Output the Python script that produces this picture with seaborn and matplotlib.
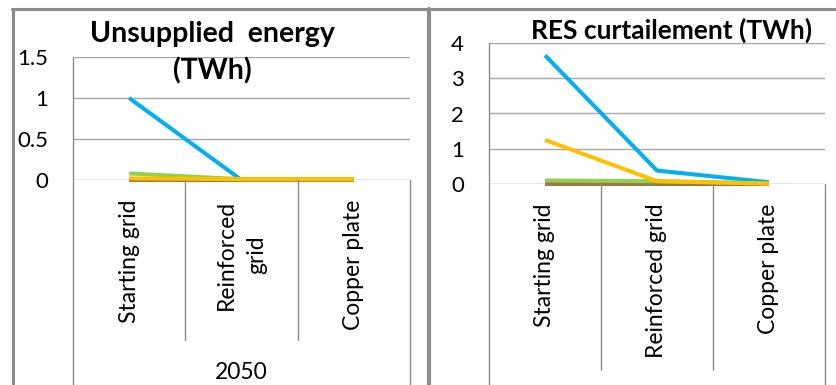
import matplotlib
matplotlib.use("Agg")
import matplotlib.pyplot as plt
from matplotlib.lines import Line2D
import seaborn as sns
import pandas as pd

# ---- data ----
scenarios = ["Starting grid", "Reinforced grid", "Copper plate"]
left_labels = ["Starting grid", "Reinforced\ngrid", "Copper plate"]
right_labels = ["Starting grid", "Reinforced grid", "Copper plate"]
series_names = ["S1", "S2", "S3", "S4"]
series_colors = ["#00B0F0", "#9C7A44", "#92D050", "#FFC000"]

unsupplied_s1 = [1.0, 0.0, 0.0]
unsupplied_s2 = [0.0, 0.0, 0.0]
unsupplied_s3 = [0.08, 0.01, 0.01]
unsupplied_s4 = [0.02, 0.01, 0.01]

curtail_s1 = [3.65, 0.38, 0.05]
curtail_s2 = [0.0, 0.0, 0.0]
curtail_s3 = [0.1, 0.08, 0.02]
curtail_s4 = [1.25, 0.08, 0.01]

left_title = "Unsupplied  energy\n(TWh)"
right_title = "RES curtailement (TWh)"
year_label = "2050"
left_yticks = [0, 0.5, 1, 1.5]
left_yticklabels = ["0", "0.5", "1", "1.5"]
right_yticks = [0, 1, 2, 3, 4]


def long_df(s1, s2, s3, s4):
    rows = []
    for name, vals in zip(series_names, [s1, s2, s3, s4]):
        for sc, v in zip(scenarios, vals):
            rows.append({"scenario": sc, "series": name, "value": v})
    return pd.DataFrame(rows)


df_left = long_df(unsupplied_s1, unsupplied_s2, unsupplied_s3, unsupplied_s4)
df_right = long_df(curtail_s1, curtail_s2, curtail_s3, curtail_s4)

sns.set_theme(style="white")
plt.rcParams["font.family"] = ["Lato", "DejaVu Sans"]

W, H = 837, 385
fig = plt.figure(figsize=(W / 100, H / 100), dpi=100)
fig.patch.set_facecolor("white")

GRID = "#a6a6a6"
AXC = "#8c8c8c"
BORDER = "#8c8c8c"
LABEL_FS = 16.5
TICK_FS = 16


def fx(x):
    return x / W


def fy(y):
    return 1 - y / H


def make_axes(x0, x1, ytop, y0):
    return fig.add_axes([fx(x0), fy(y0), fx(x1) - fx(x0), fy(ytop) - fy(y0)])


axL = make_axes(73, 410, 57, 180)
axR = make_axes(489, 825, 43, 184)

palette = dict(zip(series_names, series_colors))
draw_order = ["S1", "S2", "S3", "S4"]

for ax, df in [(axL, df_left), (axR, df_right)]:
    sns.lineplot(data=df, x="scenario", y="value", hue="series",
                 hue_order=draw_order, palette=palette, sort=False,
                 linewidth=2.9, legend=False, ax=ax, clip_on=False,
                 solid_capstyle="butt")

for ax, yticks, ylab, labels in [(axL, left_yticks, left_yticklabels, left_labels),
                                  (axR, right_yticks, [str(t) for t in right_yticks], right_labels)]:
    ax.set_xlim(-0.5, 2.5)
    ax.set_ylim(yticks[0], yticks[-1])
    ax.set_yticks(yticks)
    ax.set_yticklabels(ylab)
    ax.set_xticks(range(len(scenarios)))
    ax.set_xticklabels(labels, rotation=90, va="top", ha="center",
                       fontsize=LABEL_FS, color="#000000", linespacing=1.55)
    ax.tick_params(axis="x", length=0, pad=14)
    ax.tick_params(axis="y", length=6, color=AXC, width=1, pad=12,
                   labelsize=TICK_FS, labelcolor="#000000")
    ax.set_xlabel("")
    ax.set_ylabel("")
    for s in ax.spines.values():
        s.set_visible(False)
    for t in yticks[1:]:
        ax.axhline(t, color=GRID, linewidth=1.0, zorder=0)
    ax.axhline(yticks[0], color=AXC, linewidth=1.0, zorder=0.5)
    ax.set_facecolor("none")

# axis lines and category dividers (Excel multi-level axis look)
hL = 180 - 57
hR = 184 - 43
axL.axvline(-0.5, ymin=-(385 - 180) / hL, ymax=1, color=AXC, lw=1.0, clip_on=False)
axL.axvline(2.5, ymin=-(385 - 180) / hL, ymax=0, color=AXC, lw=1.0, clip_on=False)
for xb in [0.5, 1.5]:
    axL.axvline(xb, ymin=-(340 - 180) / hL, ymax=0, color=AXC, lw=1.0, clip_on=False)

axR.axvline(-0.5, ymin=-(385 - 184) / hR, ymax=1, color=AXC, lw=1.0, clip_on=False)
axR.axvline(2.5, ymin=-(385 - 184) / hR, ymax=0, color=AXC, lw=1.0, clip_on=False)
for xb in [0.5, 1.5]:
    axR.axvline(xb, ymin=-(370 - 184) / hR, ymax=0, color=AXC, lw=1.0, clip_on=False)

axL.text(0.5, -(373 - 180) / hL, year_label, transform=axL.transAxes,
         ha="center", va="center", fontsize=LABEL_FS, color="#000000")

# titles
fig.text(fx(212), fy(53), left_title, ha="center", va="center",
         fontsize=20.5, fontweight="bold", color="#000000", linespacing=1.45)
fig.text(fx(672), fy(30), right_title, ha="center", va="center",
         fontsize=19, fontweight="bold", color="#000000")

# chart borders
fig.add_artist(Line2D([fx(12), fx(837)], [fy(9), fy(9)], color=BORDER, lw=2.2))
fig.add_artist(Line2D([fx(13), fx(13)], [fy(9), fy(385)], color=BORDER, lw=2.2))
fig.add_artist(Line2D([fx(429.5), fx(429.5)], [fy(9), fy(385)], color=BORDER, lw=3.0))

fig.savefig("out.png", dpi=100, facecolor="white")
